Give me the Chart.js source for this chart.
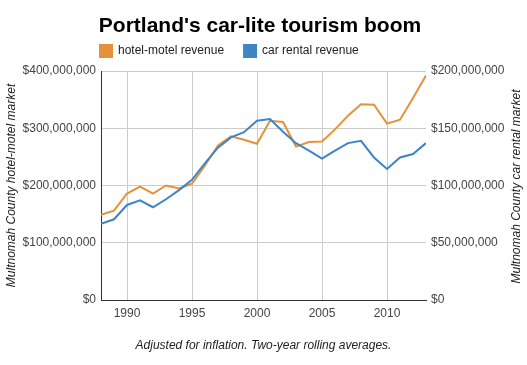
<!DOCTYPE html>
<html>
<head>
<meta charset="utf-8">
<script src="https://cdn.jsdelivr.net/npm/chart.js@4"></script>
<style>
  html, body { margin: 0; padding: 0; background: #ffffff; }
  #wrap { width: 527px; height: 365px; }
</style>
</head>
<body>
<div id="wrap"><canvas id="c" width="527" height="365"></canvas></div>
<script>
// ---- data ----
const chartTitle = "Portland's car-lite tourism boom";
const seriesNames = ['hotel-motel revenue', 'car rental revenue'];
const years = [1988, 1989, 1990, 1991, 1992, 1993, 1994, 1995, 1996, 1997, 1998, 1999, 2000,
               2001, 2002, 2003, 2004, 2005, 2006, 2007, 2008, 2009, 2010, 2011, 2012, 2013];
// hotel-motel revenue, US dollars (left axis)
const hotelMotelRevenue = [149e6, 156e6, 186e6, 198e6, 186e6, 200e6, 195e6, 203e6, 235e6, 270e6, 286e6, 280e6, 273e6,
                           313e6, 311e6, 268e6, 276e6, 277e6, 298e6, 322e6, 342e6, 341e6, 308e6, 315e6, 353e6, 392e6];
// car rental revenue, US dollars (right axis)
const carRentalRevenue = [66.5e6, 70.5e6, 83e6, 87e6, 81e6, 88e6, 96e6, 105e6, 119.5e6, 133e6, 142e6, 146.5e6, 156.5e6,
                          158e6, 147e6, 137e6, 130.5e6, 123.5e6, 130.5e6, 137e6, 139e6, 124.5e6, 114.5e6, 124.5e6, 127.5e6, 137e6];
const xTickYears = [1990, 1995, 2000, 2005, 2010];
const leftTickValues = [0, 100e6, 200e6, 300e6, 400e6];
const rightTickValues = [0, 50e6, 100e6, 150e6, 200e6];
const leftAxisTitle = 'Multnomah County hotel-motel market';
const rightAxisTitle = 'Multnomah County car rental market';
const captionText = 'Adjusted for inflation. Two-year rolling averages.';

// ---- styles ----
const FONT = '"Liberation Sans", Arial, sans-serif';
const ORANGE = '#e69138';
const BLUE = '#3d85c6';

const money = v => '$' + Math.round(v).toLocaleString('en-US');
const setTicks = vals => scale => { scale.ticks = vals.map(v => ({ value: v })); };

const legendPlacer = {
  id: 'legendPlacer',
  afterLayout(chart) {
    if (chart.legend) {
      chart.legend.left = 80;   // first box at 100
      chart.legend.top = 25;    // boxes at 45
    }
  }
};

const rightTitlePlugin = {
  id: 'rightTitle',
  afterDraw(chart) {
    const ctx = chart.ctx;
    const a = chart.chartArea;
    ctx.save();
    ctx.translate(516.5, (a.top + a.bottom) / 2 + 1);
    ctx.rotate(-Math.PI / 2);
    ctx.font = 'italic 12px ' + FONT;
    ctx.fillStyle = '#222222';
    ctx.textAlign = 'center';
    ctx.textBaseline = 'middle';
    ctx.fillText(rightAxisTitle, 0, 0);
    ctx.restore();
  }
};

new Chart(document.getElementById('c'), {
  type: 'line',
  data: {
    datasets: [
      {
        label: seriesNames[0],
        data: years.map((y, i) => ({ x: y, y: hotelMotelRevenue[i] })),
        borderColor: ORANGE,
        backgroundColor: ORANGE,
        borderWidth: 2,
        pointRadius: 0,
        tension: 0,
        yAxisID: 'y',
        order: 1
      },
      {
        label: seriesNames[1],
        data: years.map((y, i) => ({ x: y, y: carRentalRevenue[i] })),
        borderColor: BLUE,
        backgroundColor: BLUE,
        borderWidth: 2,
        pointRadius: 0,
        tension: 0,
        yAxisID: 'y2',
        order: 0
      }
    ]
  },
  options: {
    responsive: false,
    animation: false,
    devicePixelRatio: 1,
    layout: { padding: { left: 0, right: 7, top: 0, bottom: 0 } },
    plugins: {
      title: {
        display: true,
        text: chartTitle,
        color: '#000000',
        font: { family: FONT, size: 21, weight: 'bold', lineHeight: 1.2 },
        padding: { top: 13.4, bottom: 0 }
      },
      legend: {
        display: true,
        position: 'top',
        align: 'start',
        maxHeight: 32.4,
        labels: {
          boxWidth: 12,
          boxHeight: 12,
          padding: 20,
          color: '#222222',
          font: { family: FONT, size: 12 },
          sort: (a, b) => a.datasetIndex - b.datasetIndex
        }
      },
      tooltip: { enabled: false }
    },
    scales: {
      x: {
        type: 'linear',
        position: 'bottom',
        min: years[0],
        max: years[years.length - 1],
        afterBuildTicks: setTicks(xTickYears),
        afterFit: s => { s.height = 65; },
        grid: { color: '#cccccc', drawTicks: false, lineWidth: 1 },
        border: { display: true, color: '#333333', width: 1 },
        ticks: {
          padding: 6,
          color: '#444444',
          font: { family: FONT, size: 12 },
          maxRotation: 0,
          callback: v => String(v)
        },
        title: {
          display: true,
          text: captionText,
          color: '#222222',
          font: { family: FONT, size: 12, style: 'italic', lineHeight: 1.2 },
          padding: { top: 0, bottom: 12.6 }
        }
      },
      y: {
        type: 'linear',
        position: 'left',
        min: 0,
        max: 400e6,
        afterBuildTicks: setTicks(leftTickValues),
        afterFit: s => { s.width = 101; },
        grid: { color: '#cccccc', drawTicks: false, lineWidth: 1 },
        border: { display: true, color: '#333333', width: 1 },
        ticks: {
          padding: 5,
          color: '#444444',
          font: { family: FONT, size: 12 },
          callback: v => money(v)
        },
        title: {
          display: true,
          text: leftAxisTitle,
          color: '#222222',
          font: { family: FONT, size: 12, style: 'italic', lineHeight: 1.2 },
          padding: { top: 4, bottom: 0 }
        }
      },
      y2: {
        type: 'linear',
        position: 'right',
        min: 0,
        max: 200e6,
        afterBuildTicks: setTicks(rightTickValues),
        afterFit: s => { s.width = 94; },
        grid: { display: false, drawTicks: false },
        border: { display: false },
        ticks: {
          padding: 5,
          color: '#444444',
          font: { family: FONT, size: 12 },
          callback: v => money(v)
        },
        title: { display: false }
      }
    }
  },
  plugins: [legendPlacer, rightTitlePlugin]
});
</script>
</body>
</html>
